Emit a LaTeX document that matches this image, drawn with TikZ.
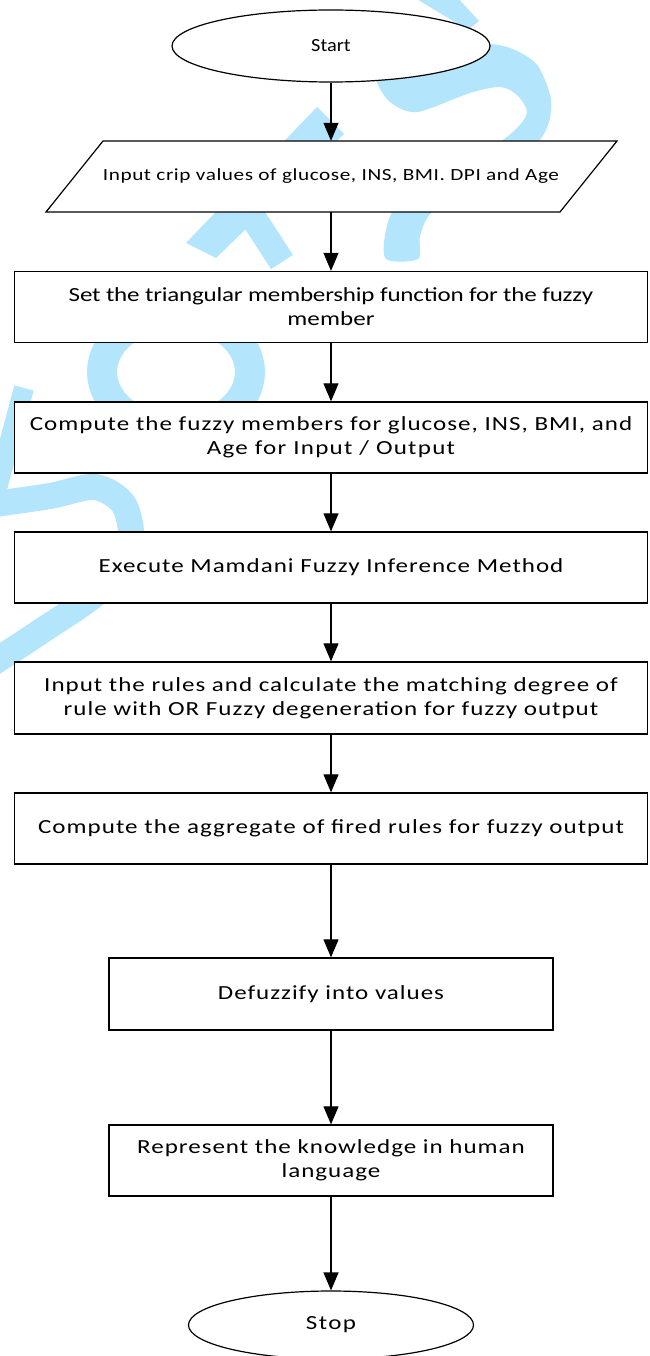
\documentclass[tikz,border=0pt]{standalone}
\usepackage{fontspec}
\setmainfont{Carlito}
\usetikzlibrary{shapes.geometric, arrows.meta}

\definecolor{wmblue}{RGB}{179,229,252}
% wide, letter spaced Carlito
\newcommand\lsp[2][1.25]{\fontspec{Carlito}[FakeStretch=#1, LetterSpace=#2]}

\tikzset{
    terminal/.style={ellipse, draw, line width=1.2pt, fill=white, inner sep=0pt},
    process/.style={rectangle, draw, line width=1.3pt, fill=white, align=center,
        inner sep=0pt, minimum height=71pt, font=\fontsize{20}{24}\lsp{5}},
    arrow/.style={line width=1.2pt, -{Triangle[length=18pt, width=15pt]}},
    wmband/.style={wmblue, line width=#1},
}

\begin{document}
\begin{tikzpicture}[x=1pt, y=-1pt]
    \useasboundingbox (0,0) rectangle (649,1356);

    % watermark
    \fill[wmblue] (410,-5) -- (455,-5) -- (479,21) -- (468,30) -- cycle;
    \fill[wmblue] plot[smooth cycle, tension=0.5] coordinates {
        (376,60) (440,45) (490,44) (515,50) (538,66) (551,100) (546,130)
        (522,160) (470,190) (432,212) (420,236) (418,259)
        (386,259) (386,230) (398,204) (440,176) (494,146) (517,128)
        (527,112) (517,95) (500,87) (470,93) (417,112) (390,102) (376,80)};
    \fill[wmblue] (317,107) -- (344,134) -- (216,258) -- (186,243) -- cycle;
    \draw[wmband=26pt] (245,205) -- (282,262);
    \draw[wmband=30pt] (176,372) ellipse [x radius=74pt, y radius=57pt];
    \draw[wmband=20pt] plot[smooth] coordinates {(24,388) (10,440) (-6,500)};
    \draw[wmband=26pt] plot[smooth] coordinates {
        (-12,505) (50,496) (95,487) (124,505) (130,545) (100,590) (40,632) (-15,668)};

    % flow chart
    \node[terminal, minimum width=318pt, minimum height=72pt,
        font={\fontsize{18.5}{22}\lsp[1.1]{0}}] (start) at (331,46) {Start};

    \filldraw[fill=white, line width=1.2pt]
        (103,141) -- (617,141) -- (560,212) -- (46,212) -- cycle;
    \node[minimum width=514pt, minimum height=71pt, inner sep=0pt,
        font=\fontsize{17}{20}\lsp{3.3}] (in) at (331,176.5)
        {Input crip values of glucose, INS, BMI. DPI and Age};

    \node[process, minimum width=633pt] (set) at (331,307)
        {{\lsp{-0.9}Set the triangular membership function for the fuzzy}\\{\lsp{0.5}member}};
    \node[process, minimum width=633pt] (fuzz) at (331,437.5)
        {{\lsp{5.2}Compute the fuzzy members for glucose, INS, BMI, and}\\{\lsp{6.4}Age for Input / Output}};
    \node[process, minimum width=633pt] (mam) at (331,567.5)
        {Execute Mamdani Fuzzy Inference Method};
    \node[process, minimum width=633pt, minimum height=72pt] (rule) at (331,698)
        {Input the rules and calculate the matching degree of\\rule with OR Fuzzy degeneration for fuzzy output};
    \node[process, minimum width=633pt, font=\fontsize{20}{24}\lsp{5.3}] (agg) at (331,828.5)
        {Compute the aggregate of fired rules for fuzzy output};
    \node[process, minimum width=444pt, minimum height=72pt] (defuz) at (331,994)
        {Defuzzify into values};
    \node[process, minimum width=444pt] (repr) at (331,1160.5)
        {Represent the knowledge in human\\language};

    \node[terminal, minimum width=285pt, minimum height=68pt,
        font=\fontsize{20}{24}\lsp{7}] (stop) at (331,1325) {Stop};

    \foreach \a/\b in {start/in, in/set, set/fuzz, fuzz/mam, mam/rule,
                       rule/agg, agg/defuz, defuz/repr, repr/stop}
    {
        \draw[arrow] (\a) -- (\b);
    }
\end{tikzpicture}
\end{document}
